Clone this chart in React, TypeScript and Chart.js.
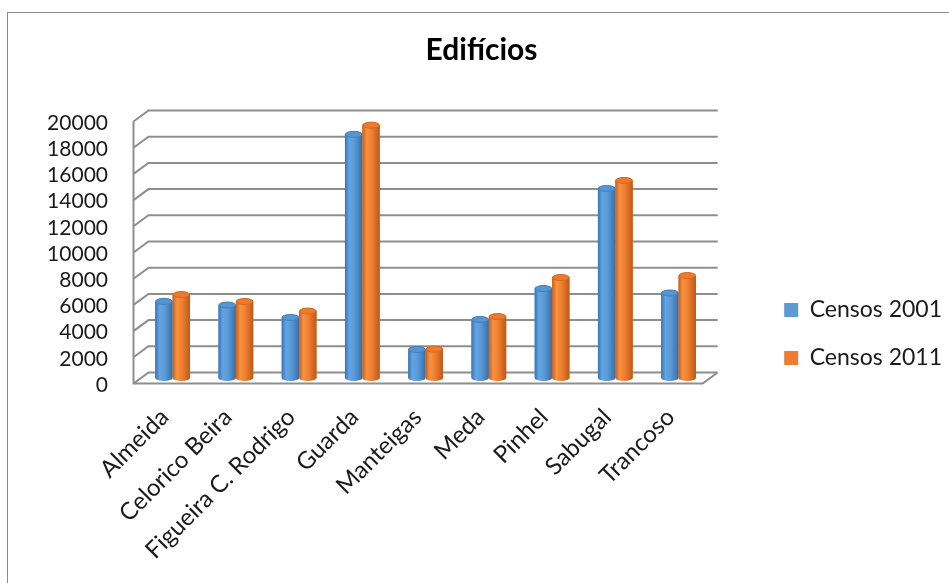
import React, { useEffect, useRef } from "react";
import { Chart, registerables } from "chart.js";

Chart.register(...registerables);

// Building counts per municipality (district of Guarda), two census years
const categories = [
  "Almeida",
  "Celorico Beira",
  "Figueira C. Rodrigo",
  "Guarda",
  "Manteigas",
  "Meda",
  "Pinhel",
  "Sabugal",
  "Trancoso",
];
const censos2001 = [5850, 5570, 4620, 18600, 2180, 4470, 6830, 14470, 6490];
const censos2011 = [6370, 5840, 5110, 19300, 2210, 4690, 7670, 15080, 7820];
const seriesNames = ["Censos 2001", "Censos 2011"];
const chartTitle = "Edifícios";
const yMin = 0;
const yMax = 20000;
const yStep = 2000;

const FONT = "Lato, 'Open Sans', sans-serif";
const TEXT = "#1a1a1a";

// half of the box depth used for the pseudo-3D walls
const DX = 7.5;
const DY = 5.5;

type Shade = { stops: [number, string][]; cap: string; rim: string };
const shades: Shade[] = [
  {
    stops: [
      [0, "#3b74b4"],
      [0.25, "#62a4e4"],
      [0.55, "#5a9ad6"],
      [1, "#3a6ea6"],
    ],
    cap: "#5596d2",
    rim: "#4680bd",
  },
  {
    stops: [
      [0, "#c9601c"],
      [0.25, "#f8923f"],
      [0.55, "#ee7e31"],
      [1, "#bd5a18"],
    ],
    cap: "#ec7b2e",
    rim: "#d2691f",
  },
];

// back wall, side wall and floor of the 3D box
const frame3d = {
  id: "frame3d",
  beforeDatasetsDraw(chart: any) {
    const { ctx, chartArea, scales } = chart;
    const { left, right, top, bottom } = chartArea;
    const y = scales.y;
    ctx.save();
    ctx.strokeStyle = "#8e8e8e";
    ctx.lineWidth = 2;
    ctx.beginPath();
    for (const t of y.ticks) {
      const py = y.getPixelForValue(t.value);
      ctx.moveTo(left - DX, py + DY);
      ctx.lineTo(left + DX, py - DY);
      ctx.lineTo(right + DX, py - DY);
    }
    ctx.moveTo(left - DX, top + DY);
    ctx.lineTo(left - DX, bottom + DY);
    ctx.lineTo(right - DX, bottom + DY);
    ctx.lineTo(right + DX, bottom - DY);
    ctx.stroke();
    ctx.restore();
  },
};

// shades each bar as a cylinder with an elliptical cap
const cylinders = {
  id: "cylinders",
  afterDatasetsDraw(chart: any) {
    const ctx = chart.ctx;
    chart.data.datasets.forEach((_ds: any, di: number) => {
      const meta = chart.getDatasetMeta(di);
      const shade = shades[di % shades.length];
      meta.data.forEach((bar: any) => {
        const { x, y, base, width } = bar.getProps(["x", "y", "base", "width"], true);
        const rx = width / 2;
        const ry = 3;
        const l = x - rx;
        const r = x + rx;
        const g = ctx.createLinearGradient(l, 0, r, 0);
        shade.stops.forEach(([o, c]) => g.addColorStop(o, c));
        ctx.save();
        ctx.beginPath();
        ctx.moveTo(l, y);
        ctx.lineTo(l, base);
        ctx.ellipse(x, base, rx, ry, 0, Math.PI, 0, true);
        ctx.lineTo(r, y);
        ctx.ellipse(x, y, rx, ry, 0, 0, Math.PI, true);
        ctx.closePath();
        ctx.fillStyle = g;
        ctx.fill();
        ctx.beginPath();
        ctx.ellipse(x, y, rx - 0.5, ry, 0, 0, Math.PI * 2);
        ctx.fillStyle = shade.cap;
        ctx.fill();
        ctx.lineWidth = 1;
        ctx.strokeStyle = shade.rim;
        ctx.stroke();
        ctx.restore();
      });
    });
  },
};

export default function App() {
  const canvasRef = useRef<HTMLCanvasElement | null>(null);

  useEffect(() => {
    const canvas = canvasRef.current;
    if (!canvas) return;
    const chart = new Chart(canvas, {
      type: "bar",
      data: {
        labels: categories,
        datasets: [
          {
            label: seriesNames[0],
            data: censos2001,
            backgroundColor: "#5b9bd5",
            borderWidth: 0,
          },
          {
            label: seriesNames[1],
            data: censos2011,
            backgroundColor: "#ed7d31",
            borderWidth: 0,
          },
        ],
      },
      options: {
        responsive: false,
        animation: false,
        devicePixelRatio: 1,
        layout: { padding: { left: 3, right: -3, top: 0, bottom: 0 } },
        datasets: {
          bar: { categoryPercentage: 0.55, barPercentage: 1 },
        },
        plugins: {
          title: {
            display: true,
            text: chartTitle,
            color: "#000",
            font: { family: FONT, size: 30, weight: "bold" },
            padding: { top: 19, bottom: 48 },
          },
          legend: {
            position: "right",
            align: "start",
            maxWidth: 300,
            // empty title only reserves space above the entries
            title: {
              display: true,
              text: "",
              font: { size: 10 },
              padding: { top: 248.5, bottom: 0 },
            },
            labels: {
              boxWidth: 14,
              boxHeight: 14,
              padding: 25,
              color: TEXT,
              font: { family: FONT, size: 23 },
            },
          },
          tooltip: { enabled: false },
        },
        scales: {
          x: {
            grid: { display: false, drawTicks: false },
            border: { display: false },
            ticks: {
              autoSkip: false,
              maxRotation: 45,
              minRotation: 45,
              padding: 25,
              labelOffset: -8,
              color: TEXT,
              font: { family: FONT, size: 24 },
            },
            afterFit: (s: any) => {
              s.height = 205;
            },
          },
          y: {
            min: yMin,
            max: yMax,
            grid: { display: false, drawTicks: false },
            border: { display: false },
            ticks: {
              stepSize: yStep,
              autoSkip: false,
              padding: 33,
              labelOffset: 7,
              color: TEXT,
              font: { family: FONT, size: 21 },
              callback: (v: any) => String(v),
            },
            afterFit: (s: any) => {
              s.width = 130;
            },
          },
          // empty spacer between the plot and the legend
          gap: {
            type: "linear",
            position: "right",
            display: true,
            grid: { display: false, drawTicks: false },
            border: { display: false },
            ticks: { display: false },
            afterFit: (s: any) => {
              s.width = 49;
            },
          },
        },
      },
      plugins: [frame3d, cylinders],
    });
    return () => chart.destroy();
  }, []);

  return (
    <div
      style={{
        position: "absolute",
        left: 7,
        top: 12,
        width: 942,
        height: 571,
        boxSizing: "border-box",
        borderLeft: "1px solid #8a8a8a",
        borderTop: "1px solid #8a8a8a",
        background: "#fff",
        overflow: "hidden",
      }}
    >
      <canvas ref={canvasRef} width={941} height={570} style={{ display: "block" }} />
    </div>
  );
}
